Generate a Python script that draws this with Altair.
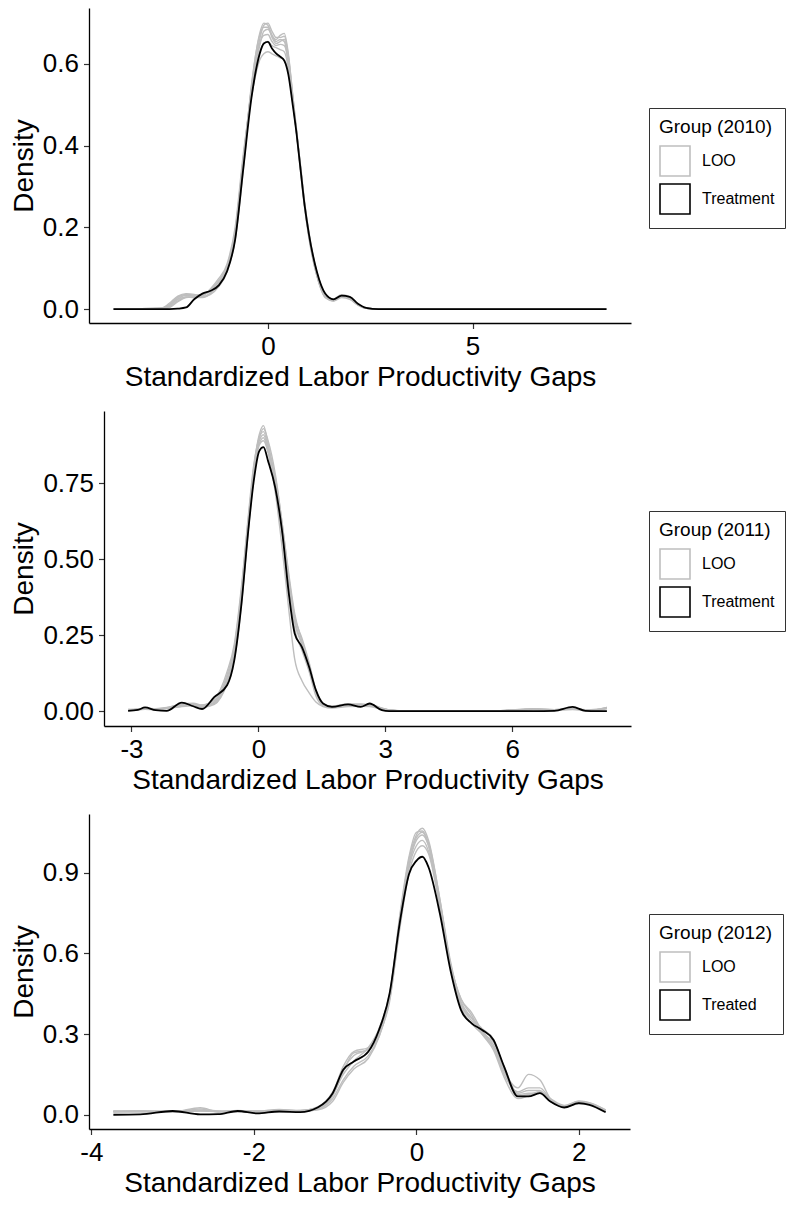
import altair as alt
import pandas as pd

FONT = "Liberation Sans"

# ---------------- 2010 ----------------
x_2010 = [-3.77, -2.6, -2.4, -2.2, -2.0, -1.8, -1.6, -1.4, -1.2, -1.0,
          -0.8, -0.6, -0.4, -0.2, -0.1, 0.0, 0.1, 0.2, 0.3, 0.4,
          0.5, 0.6, 0.7, 0.8, 0.9, 1.0, 1.2, 1.4, 1.6, 1.8,
          2.0, 2.2, 2.4, 2.7, 3.0, 8.27]
treat_2010 = [0, 0, 0, 0.001, 0.004, 0.024, 0.038, 0.045, 0.058, 0.092,
              0.170, 0.345, 0.518, 0.625, 0.650, 0.654, 0.638, 0.626, 0.618, 0.608,
              0.574, 0.505, 0.43, 0.34, 0.252, 0.185, 0.09, 0.038, 0.024, 0.033,
              0.03, 0.013, 0.003, 0, 0, 0]
loo_2010 = [
    [0, 0.002, 0.012, 0.03, 0.036, 0.034, 0.036, 0.044, 0.066, 0.1,
     0.18, 0.36, 0.54, 0.66, 0.695, 0.70, 0.68, 0.665, 0.665, 0.668,
     0.62, 0.53, 0.44, 0.345, 0.255, 0.185, 0.085, 0.03, 0.022, 0.03,
     0.025, 0.01, 0.002, 0, 0, 0],
    [0, 0.001, 0.008, 0.025, 0.034, 0.033, 0.035, 0.048, 0.07, 0.105,
     0.19, 0.37, 0.53, 0.645, 0.68, 0.685, 0.67, 0.655, 0.66, 0.655,
     0.6, 0.52, 0.43, 0.34, 0.25, 0.18, 0.08, 0.032, 0.02, 0.028,
     0.024, 0.01, 0.002, 0, 0, 0],
    [0, 0, 0.004, 0.018, 0.028, 0.03, 0.032, 0.05, 0.075, 0.11,
     0.2, 0.38, 0.52, 0.61, 0.625, 0.63, 0.625, 0.62, 0.615, 0.61,
     0.58, 0.51, 0.43, 0.35, 0.26, 0.19, 0.09, 0.035, 0.025, 0.035,
     0.03, 0.012, 0.002, 0, 0, 0],
    [0, 0.003, 0.015, 0.032, 0.038, 0.036, 0.03, 0.04, 0.06, 0.095,
     0.175, 0.35, 0.55, 0.67, 0.69, 0.69, 0.665, 0.65, 0.655, 0.66,
     0.615, 0.525, 0.43, 0.335, 0.245, 0.175, 0.08, 0.028, 0.02, 0.032,
     0.028, 0.011, 0.002, 0, 0, 0],
    [0, 0.001, 0.006, 0.02, 0.03, 0.028, 0.028, 0.038, 0.062, 0.1,
     0.185, 0.365, 0.535, 0.63, 0.65, 0.655, 0.645, 0.64, 0.635, 0.63,
     0.59, 0.515, 0.435, 0.345, 0.255, 0.185, 0.088, 0.034, 0.024, 0.034,
     0.03, 0.012, 0.002, 0, 0, 0],
    [0, 0.002, 0.01, 0.028, 0.036, 0.032, 0.03, 0.036, 0.055, 0.09,
     0.17, 0.34, 0.545, 0.675, 0.7, 0.695, 0.67, 0.66, 0.67, 0.675,
     0.625, 0.53, 0.435, 0.34, 0.25, 0.18, 0.082, 0.03, 0.022, 0.03,
     0.026, 0.01, 0.002, 0, 0, 0],
    [0, 0.002, 0.009, 0.024, 0.03, 0.03, 0.034, 0.046, 0.068, 0.104,
     0.19, 0.37, 0.54, 0.65, 0.67, 0.672, 0.655, 0.645, 0.648, 0.645,
     0.605, 0.52, 0.432, 0.342, 0.252, 0.183, 0.086, 0.033, 0.022, 0.031,
     0.027, 0.011, 0.002, 0, 0, 0],
]

# ---------------- 2011 ----------------
x_2011 = [-3.08, -2.85, -2.68, -2.43, -2.17, -1.81, -1.54, -1.33, -1.04, -0.74,
          -0.57, -0.4, -0.24, -0.11, 0.02, 0.12, 0.23, 0.4, 0.56, 0.73,
          0.86, 1.03, 1.2, 1.36, 1.53, 1.74, 2.12, 2.42, 2.63, 2.92,
          3.09, 3.6, 5.5, 6.0, 6.5, 7.0, 7.43, 7.73, 8.0, 8.24]
treat_2011 = [0.001, 0.004, 0.012, 0.003, 0.001, 0.028, 0.016, 0.007, 0.047, 0.085,
              0.167, 0.353, 0.593, 0.757, 0.856, 0.869, 0.823, 0.735, 0.593, 0.375,
              0.255, 0.211, 0.145, 0.069, 0.025, 0.014, 0.022, 0.014, 0.025, 0.003,
              0, 0, 0, 0, 0, 0.001, 0.014, 0.001, 0, 0]
loo_2011 = [
    [0.005, 0.006, 0.008, 0.006, 0.01, 0.02, 0.022, 0.015, 0.03, 0.11,
     0.2, 0.39, 0.62, 0.8, 0.91, 0.94, 0.88, 0.76, 0.6, 0.42,
     0.3, 0.22, 0.14, 0.06, 0.02, 0.015, 0.02, 0.02, 0.018, 0.008,
     0.004, 0, 0, 0.004, 0.008, 0.004, 0.006, 0.004, 0.006, 0.012],
    [0.004, 0.005, 0.01, 0.008, 0.012, 0.016, 0.024, 0.018, 0.025, 0.1,
     0.19, 0.38, 0.6, 0.78, 0.89, 0.91, 0.86, 0.75, 0.59, 0.4,
     0.27, 0.2, 0.13, 0.05, 0.018, 0.012, 0.02, 0.022, 0.02, 0.01,
     0.003, 0, 0, 0.003, 0.006, 0.005, 0.008, 0.004, 0.004, 0.008],
    [0.006, 0.004, 0.006, 0.005, 0.008, 0.015, 0.018, 0.02, 0.035, 0.12,
     0.21, 0.4, 0.63, 0.79, 0.88, 0.9, 0.85, 0.72, 0.54, 0.32,
     0.17, 0.1, 0.06, 0.03, 0.015, 0.01, 0.015, 0.016, 0.015, 0.006,
     0.002, 0, 0, 0.002, 0.005, 0.004, 0.005, 0.003, 0.004, 0.01],
    [0.003, 0.006, 0.009, 0.007, 0.011, 0.022, 0.02, 0.016, 0.028, 0.095,
     0.18, 0.36, 0.59, 0.77, 0.875, 0.89, 0.855, 0.77, 0.62, 0.43,
     0.31, 0.24, 0.16, 0.07, 0.024, 0.016, 0.022, 0.02, 0.022, 0.01,
     0.004, 0.001, 0, 0.004, 0.007, 0.003, 0.01, 0.005, 0.005, 0.01],
    [0.005, 0.005, 0.007, 0.006, 0.009, 0.018, 0.02, 0.012, 0.022, 0.09,
     0.17, 0.35, 0.6, 0.79, 0.9, 0.92, 0.87, 0.76, 0.6, 0.41,
     0.29, 0.22, 0.15, 0.065, 0.022, 0.014, 0.02, 0.018, 0.02, 0.008,
     0.003, 0, 0, 0.003, 0.006, 0.004, 0.007, 0.004, 0.005, 0.011],
    [0.004, 0.007, 0.009, 0.007, 0.01, 0.024, 0.026, 0.02, 0.04, 0.13,
     0.22, 0.41, 0.64, 0.81, 0.9, 0.93, 0.89, 0.78, 0.62, 0.44,
     0.32, 0.23, 0.15, 0.065, 0.022, 0.016, 0.024, 0.024, 0.02, 0.009,
     0.004, 0, 0, 0.003, 0.007, 0.005, 0.008, 0.004, 0.005, 0.012],
]

# ---------------- 2012 ----------------
x_2012 = [-3.73, -3.4, -3.0, -2.66, -2.44, -2.2, -1.96, -1.69, -1.43, -1.21,
          -1.03, -0.9, -0.77, -0.59, -0.46, -0.33, -0.2, -0.09, 0.0, 0.075,
          0.15, 0.29, 0.42, 0.55, 0.68, 0.81, 0.95, 1.08, 1.25, 1.38,
          1.52, 1.65, 1.82, 2.0, 2.13, 2.33]
treat_2012 = [0, 0.001, 0.014, 0.001, 0.002, 0.014, 0.005, 0.012, 0.01, 0.028,
              0.08, 0.167, 0.198, 0.235, 0.315, 0.45, 0.722, 0.895, 0.944, 0.959,
              0.92, 0.747, 0.537, 0.389, 0.34, 0.315, 0.278, 0.179, 0.068, 0.068,
              0.08, 0.049, 0.027, 0.043, 0.037, 0.009]
loo_2012 = [
    [0.012, 0.012, 0.01, 0.022, 0.01, 0.012, 0.01, 0.018, 0.012, 0.02,
     0.07, 0.16, 0.23, 0.24, 0.3, 0.44, 0.74, 0.95, 1.04, 1.065,
     1.02, 0.8, 0.57, 0.42, 0.36, 0.3, 0.25, 0.16, 0.1, 0.15,
     0.13, 0.06, 0.03, 0.045, 0.04, 0.015],
    [0.01, 0.014, 0.012, 0.015, 0.012, 0.015, 0.012, 0.015, 0.014, 0.022,
     0.06, 0.13, 0.18, 0.22, 0.29, 0.43, 0.73, 0.93, 1.02, 1.04,
     1.0, 0.79, 0.56, 0.41, 0.35, 0.31, 0.26, 0.17, 0.08, 0.09,
     0.09, 0.05, 0.03, 0.048, 0.042, 0.016],
    [0.013, 0.011, 0.013, 0.018, 0.014, 0.01, 0.013, 0.012, 0.016, 0.025,
     0.075, 0.15, 0.2, 0.25, 0.32, 0.45, 0.72, 0.92, 1.0, 1.02,
     0.98, 0.78, 0.56, 0.43, 0.37, 0.3, 0.24, 0.14, 0.06, 0.07,
     0.085, 0.06, 0.035, 0.05, 0.045, 0.018],
    [0.011, 0.012, 0.011, 0.014, 0.011, 0.013, 0.014, 0.014, 0.013, 0.018,
     0.05, 0.12, 0.17, 0.21, 0.29, 0.44, 0.75, 0.96, 1.05, 1.055,
     1.01, 0.8, 0.55, 0.4, 0.34, 0.3, 0.27, 0.18, 0.075, 0.08,
     0.08, 0.055, 0.03, 0.04, 0.038, 0.014],
    [0.014, 0.013, 0.012, 0.016, 0.013, 0.014, 0.011, 0.016, 0.015, 0.03,
     0.085, 0.17, 0.22, 0.245, 0.31, 0.43, 0.7, 0.9, 0.98, 1.0,
     0.97, 0.77, 0.55, 0.41, 0.36, 0.32, 0.28, 0.17, 0.07, 0.075,
     0.085, 0.05, 0.028, 0.045, 0.04, 0.016],
    [0.012, 0.015, 0.011, 0.026, 0.012, 0.016, 0.013, 0.02, 0.016, 0.026,
     0.08, 0.18, 0.235, 0.25, 0.3, 0.42, 0.71, 0.93, 1.03, 1.05,
     1.0, 0.78, 0.56, 0.43, 0.38, 0.31, 0.25, 0.15, 0.085, 0.1,
     0.1, 0.058, 0.032, 0.05, 0.044, 0.017],
]


def long_table(xs, treat, loos, treat_label):
    rows = []
    for i, ys in enumerate(loos):
        for x, y in zip(xs, ys):
            rows.append({"x": x, "y": y, "series": "loo%d" % i, "group": "LOO"})
    for x, y in zip(xs, treat):
        rows.append({"x": x, "y": y, "series": "treat", "group": treat_label})
    return pd.DataFrame(rows)


def panel(xs, treat, loos, treat_label, year, x_dom, x_ticks, y_dom, y_ticks,
          y_fmt, width, inset=0):
    # inset: shift the plot area right inside the panel (wider y labels in ggplot)
    data = long_table(xs, treat, loos, treat_label)
    color = alt.Color(
        "group:N",
        scale=alt.Scale(domain=["LOO", treat_label], range=["#bebebe", "black"]),
        legend=alt.Legend(
            title="Group (%d)" % year,
            orient="none",
            legendX=560,
            legendY=100,
            symbolType="square",
            symbolSize=900,
            symbolFillColor="white",
            symbolStrokeWidth=1.6,
            strokeColor="#333333",
            padding=10,
            titlePadding=8,
            rowPadding=0,
            labelOffset=11,
            titleFont=FONT,
            titleFontSize=19,
            titleFontWeight="normal",
            titleColor="black",
            labelFont=FONT,
            labelFontSize=16,
            labelColor="black",
        ),
    )
    if inset:
        x_scale = alt.Scale(domain=x_dom, range=[inset, width], nice=False, zero=False)
    else:
        x_scale = alt.Scale(domain=x_dom, nice=False, zero=False)
    base = alt.Chart(data).encode(
        x=alt.X(
            "x:Q",
            title="Standardized Labor Productivity Gaps",
            scale=x_scale,
            axis=alt.Axis(values=x_ticks, labelExpr="datum.value + ''"),
        ),
        y=alt.Y(
            "y:Q",
            title="Density",
            scale=alt.Scale(domain=y_dom, nice=False, zero=False),
            axis=alt.Axis(values=y_ticks, format=y_fmt, offset=-inset),
        ),
        color=color,
        detail="series:N",
    )
    loo = base.transform_filter(alt.datum.group == "LOO").mark_line(
        interpolate="monotone", strokeWidth=1.4
    )
    treated = base.transform_filter(alt.datum.group != "LOO").mark_line(
        interpolate="monotone", strokeWidth=1.8
    )
    return alt.layer(loo, treated).properties(width=width, height=315)


p2010 = panel(x_2010, treat_2010, loo_2010, "Treatment", 2010,
              [-4.37, 8.87], [0, 5], [-0.034, 0.737], [0, 0.2, 0.4, 0.6], ".1f",
              542)
p2011 = panel(x_2011, treat_2011, loo_2011, "Treatment", 2011,
              [-3.65, 8.81], [-3, 0, 3, 6], [-0.049, 0.988], [0, 0.25, 0.5, 0.75], ".2f",
              542, inset=15)
p2012 = panel(x_2012, treat_2012, loo_2012, "Treated", 2012,
              [-4.03, 2.63], [-4, -2, 0, 2], [-0.053, 1.118], [0, 0.3, 0.6, 0.9], ".1f",
              541)

chart = (
    alt.vconcat(p2010, p2011, p2012, spacing=19)
    .resolve_scale(color="independent", x="independent", y="independent")
    .resolve_legend(color="independent")
    .properties(padding={"left": 2, "top": 0, "right": 0, "bottom": 0})
    .configure_axis(
        grid=False,
        domainColor="black",
        domainWidth=1.3,
        tickColor="#333333",
        tickWidth=1.2,
        tickSize=5.5,
        labelFont=FONT,
        labelFontSize=26,
        labelColor="black",
        labelPadding=5,
        labelFlush=False,
        titleFont=FONT,
        titleFontSize=28,
        titleFontWeight="normal",
        titleColor="black",
        titlePadding=4,
    )
    .configure_view(stroke=None)
)

chart.save("out.html", embed_options={"renderer": "svg", "actions": False})
